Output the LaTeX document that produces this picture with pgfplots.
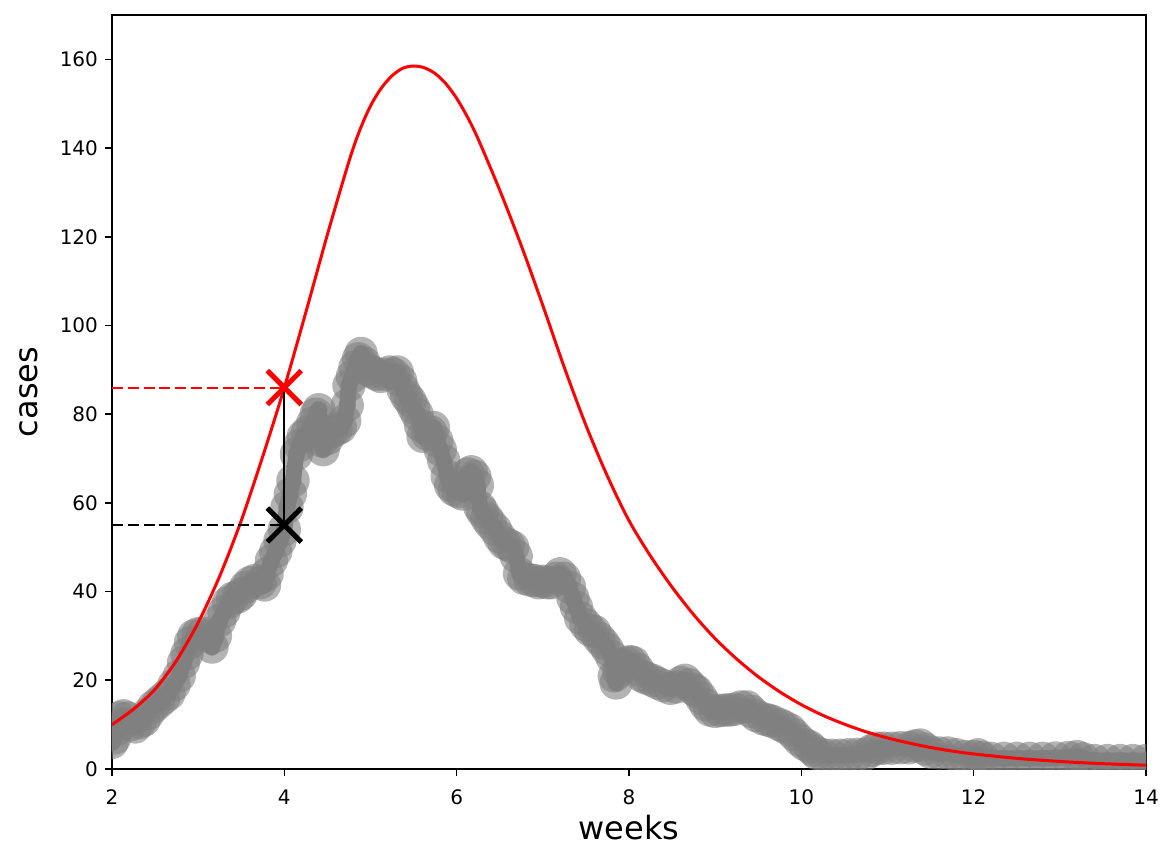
\documentclass[border=0pt]{standalone}
\usepackage{pgfplots}
\pgfplotsset{compat=1.18}
\usepackage{fontspec}
\setmainfont{DejaVu Sans}
\definecolor{mgray}{RGB}{128,128,128}
\pgfplotstableread{
x y
2.00 6
2.03 7
2.06 9
2.09 11.5
2.13 12
2.18 11.5
2.22 10
2.27 9.5
2.32 10.5
2.37 11
2.42 12.5
2.48 14
2.54 15
2.60 16
2.66 17
2.72 19
2.78 21
2.83 24
2.87 26
2.91 28.5
2.95 30
3.00 30.5
3.06 30.6
3.11 30
3.16 27.5
3.20 30
3.25 33.5
3.30 35.5
3.35 37.5
3.40 38.5
3.46 38.8
3.50 39.5
3.55 41
3.60 42
3.66 42.5
3.72 42
3.77 41.5
3.80 44
3.85 47
3.90 49
3.95 51.5
4.00 54
4.03 59
4.07 62
4.10 65
4.14 71
4.18 73
4.22 75
4.27 76
4.33 78
4.37 80
4.40 81
4.43 74
4.45 72
4.50 74.5
4.55 76
4.60 76.5
4.65 77
4.70 78.5
4.73 82
4.75 86.5
4.79 88.5
4.82 90.6
4.86 92.5
4.89 93.7
4.93 91.5
4.97 90
5.02 89.5
5.07 89
5.12 88.5
5.17 89
5.22 89.5
5.27 89
5.31 89.5
5.35 87.5
5.38 85.5
5.42 84
5.46 83
5.50 81.5
5.54 80
5.58 77.5
5.61 75
5.66 75.5
5.70 76
5.73 77
5.77 74
5.81 72
5.85 69.5
5.89 66
5.93 64
5.97 63
6.02 62.5
6.07 62
6.10 64
6.13 66.5
6.17 67
6.21 66
6.24 64
6.27 59
6.30 58
6.35 56.5
6.39 55.4
6.45 54
6.50 52.3
6.55 51
6.60 50.5
6.65 50
6.69 48
6.73 44
6.78 43
6.85 42.6
6.90 42.5
6.95 42
7.00 42.3
7.05 42
7.10 42
7.15 43
7.20 44
7.25 43
7.31 41
7.35 38.5
7.39 36.5
7.44 34
7.50 32.5
7.55 31.3
7.60 31
7.65 29.5
7.70 28.4
7.75 27
7.80 25.3
7.83 21
7.85 19.4
7.88 22
7.92 23.5
7.97 23.9
8.01 24.2
8.05 24
8.10 22.5
8.15 21
8.20 20.5
8.27 20
8.33 19.4
8.40 18.8
8.48 18.2
8.55 18.5
8.60 19.5
8.65 20
8.70 19
8.75 18
8.79 17.4
8.84 16
8.89 14.5
8.94 13.3
9.00 13
9.06 13.2
9.12 13.3
9.17 13.3
9.23 13.5
9.30 14
9.37 14
9.42 13
9.48 12
9.56 11.3
9.62 11
9.67 10.7
9.75 10
9.80 9.5
9.87 8.8
9.92 7.7
9.98 6.5
10.04 5.5
10.10 5
10.14 4.2
10.18 3.5
10.25 3.2
10.35 3.1
10.45 3.1
10.55 3.2
10.65 3.3
10.75 3.4
10.82 4.2
10.88 4.7
10.95 4.7
11.05 4.7
11.15 4.8
11.25 4.8
11.32 5.2
11.38 5.4
11.44 4.5
11.50 3.8
11.60 3.6
11.70 3.6
11.80 3.2
11.90 2.8
12.00 2.8
12.05 3.2
12.10 2.6
12.20 2.4
12.35 2.4
12.50 2.4
12.65 2.4
12.80 2.4
12.95 2.5
13.10 2.6
13.20 2.8
13.27 2.3
13.40 1.9
13.55 1.9
13.70 1.9
13.85 1.9
14.00 1.9
}\gray
\pgfplotstableread{
x y
2.0 10
2.25 13.5
2.5 18
2.75 24.5
3.0 33
3.25 43.5
3.5 56
3.75 70.5
4.0 86
4.25 103
4.5 120.5
4.75 137
4.875 144
5.0 149.5
5.125 153.5
5.25 156.3
5.375 158
5.5 158.5
5.625 158.1
5.75 156.8
5.875 154.5
6.0 151.2
6.125 147
6.25 142
6.5 130.5
6.75 118
7.0 104.5
7.25 90.5
7.5 77.5
7.75 66
8.0 56
8.25 48
8.5 41
8.75 34.8
9.0 29.4
9.25 24.8
9.5 20.8
9.75 17.4
10.0 14.5
10.25 12.1
10.5 10.1
10.75 8.4
11.0 7.0
11.25 5.85
11.5 4.85
11.75 4.05
12.0 3.4
12.5 2.4
13.0 1.7
13.5 1.2
14.0 0.85
}\model
\begin{document}
\begin{tikzpicture}
\begin{axis}[
 scale only axis, width=517pt, height=377pt,
 xmin=2, xmax=14, ymin=0, ymax=170,
 xtick={2,4,...,14}, ytick={0,20,...,160},
 xtick pos=bottom, ytick pos=left,
 tick align=outside, major tick length=3.5pt,
 tick style={black, line width=0.8pt},
 axis line style={line width=0.8pt},
 clip marker paths=true,
 /pgf/number format/assume math mode=true,
 ticklabel style={font=\fontsize{10}{12}\selectfont},
 xticklabel style={yshift=-3.5pt},
 xlabel={weeks}, ylabel={cases},
 label style={font=\fontsize{16}{19}\selectfont, inner sep=0pt},
 xlabel style={at={(axis description cs:0.5,-0.093)}, anchor=base},
 ylabel style={at={(axis description cs:-0.0716,0.5)}, anchor=base},
]
\addplot[draw=mgray, line width=8pt, line join=round, line cap=round, mark=*, mark size=4.4pt, mark options={fill=mgray, draw=none, opacity=0.6}] table {\gray};
\addplot[red, line width=1.5pt, smooth] table {\model};
\addplot[red, line width=1pt, dash pattern=on 5.5pt off 2.4pt] coordinates {(2,86) (4,86)};
\addplot[black, line width=1pt, dash pattern=on 5.5pt off 2.4pt] coordinates {(2,55) (4,55)};
\addplot[black, line width=1pt] coordinates {(4,55) (4,86)};
\addplot[red, only marks, mark=x, mark size=12pt, mark options={line width=2.5pt}] coordinates {(4,86)};
\addplot[black, only marks, mark=x, mark size=12pt, mark options={line width=2.5pt}] coordinates {(4,55)};
\coordinate (sw) at (rel axis cs:0,0);
\coordinate (ne) at (rel axis cs:1,1);
\end{axis}
\pgfresetboundingbox
\path[use as bounding box] ([xshift=-56pt,yshift=-38pt]sw) rectangle ([xshift=7pt,yshift=7.5pt]ne);
\end{tikzpicture}
\end{document}
